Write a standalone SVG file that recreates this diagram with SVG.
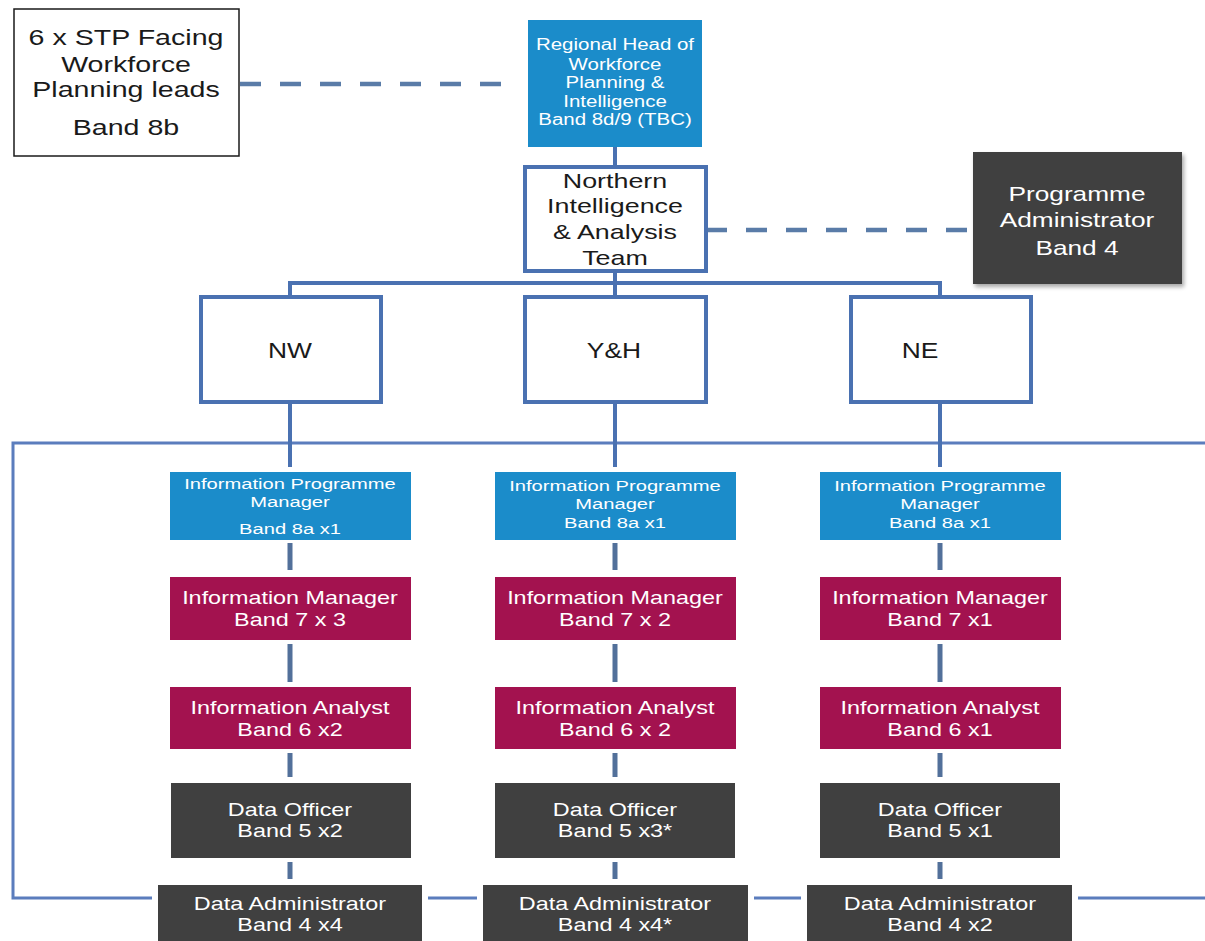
<svg xmlns="http://www.w3.org/2000/svg" width="1205" height="941" viewBox="0 0 1205 941">
<style>
text{font-family:"Liberation Sans",Arial,sans-serif;text-anchor:middle}
.w{fill:#ffffff}
.k{fill:#1a1a1a}
.blue{fill:#1b8cca}
.mag{fill:#a3124f}
.dark{fill:#404040}
.reg{fill:#ffffff;stroke:#4a71b1;stroke-width:4}
.conn{stroke:#4a71b1;stroke-width:4;fill:none}
.frame{stroke:#5b7dbd;stroke-width:3;fill:none}
.seg{stroke:#52709a;stroke-width:5}
.dash{stroke:#5a7ca8;stroke-width:4.5;stroke-dasharray:21 19;fill:none}
.t15{font-size:15.5px}
.t16{font-size:16px}
.t18{font-size:18px}
.t21{font-size:21px}
.t22{font-size:22px}
</style>
<defs>
<filter id="sh" x="-10%" y="-10%" width="130%" height="130%">
<feGaussianBlur in="SourceAlpha" stdDeviation="2"/>
<feOffset dx="2" dy="3"/>
<feComponentTransfer><feFuncA type="linear" slope="0.35"/></feComponentTransfer>
<feMerge><feMergeNode/><feMergeNode in="SourceGraphic"/></feMerge>
</filter>
</defs>
<rect width="1205" height="941" fill="#ffffff"/>

<g id="connectors">
<path class="frame" d="M1205,443 H13 V898 H1205"/>
<path class="dash" d="M240,84 H502"/>
<path class="dash" d="M706,230 H973"/>
<path class="conn" d="M615,147 V296"/>
<path class="conn" d="M290,297 V283 H940 V297"/>
<path class="conn" d="M290,402 V467 M615,402 V467 M940,402 V467"/>
<g class="seg">
<path d="M290,543 V570 M615,543 V570 M940,543 V570"/>
<path d="M290,644 V682 M615,644 V682 M940,644 V682"/>
<path d="M290,753 V777 M615,753 V777 M940,753 V777"/>
<path d="M290,862 V880 M615,862 V880 M940,862 V880"/>
</g>
</g>

<g id="stp-leads">
<rect x="14" y="9" width="225" height="147" fill="#ffffff" stroke="#1a1a1a" stroke-width="1.5"/>
<g transform="translate(126 0) scale(1.3 1)" class="k t22">
<text x="0" y="45">6 x STP Facing</text>
<text x="0" y="72">Workforce</text>
<text x="0" y="97">Planning leads</text>
<text x="0" y="135">Band 8b</text>
</g>
</g>

<g id="regional-head">
<rect class="blue" x="528" y="20" width="174" height="127"/>
<g transform="translate(615 0) scale(1.28 1)" class="w t16">
<text x="0" y="50">Regional Head of</text>
<text x="0" y="70">Workforce</text>
<text x="0" y="88">Planning &amp;</text>
<text x="0" y="107">Intelligence</text>
<text x="0" y="125">Band 8d/9 (TBC)</text>
</g>
</g>

<g id="northern-team">
<rect class="reg" x="525" y="167" width="181" height="104"/>
<g transform="translate(615 0) scale(1.28 1)" class="k t21">
<text x="0" y="188">Northern</text>
<text x="0" y="213">Intelligence</text>
<text x="0" y="239">&amp; Analysis</text>
<text x="0" y="265">Team</text>
</g>
</g>

<g id="programme-admin">
<rect class="dark" x="973" y="152" width="209" height="132" filter="url(#sh)"/>
<g transform="translate(1077 0) scale(1.25 1)" class="w t21">
<text x="0" y="201">Programme</text>
<text x="0" y="227">Administrator</text>
<text x="0" y="255">Band 4</text>
</g>
</g>

<g id="nw">
<rect class="reg" x="201" y="297" width="180" height="105"/>
<text class="k t22" transform="translate(290 358) scale(1.2 1)">NW</text>
</g>
<g id="yh">
<rect class="reg" x="525" y="297" width="181" height="105"/>
<text class="k t22" transform="translate(614 358) scale(1.2 1)">Y&amp;H</text>
</g>
<g id="ne">
<rect class="reg" x="851" y="297" width="180" height="105"/>
<text class="k t22" transform="translate(920 358) scale(1.2 1)">NE</text>
</g>

<!-- Information Programme Managers -->
<g id="nw-ipm">
<rect class="blue" x="170" y="472" width="241" height="68"/>
<g transform="translate(290 0) scale(1.3 1)" class="w t15">
<text x="0" y="489">Information  Programme</text>
<text x="0" y="507">Manager</text>
<text x="0" y="534">Band 8a x1</text>
</g>
</g>
<g id="yh-ipm">
<rect class="blue" x="495" y="472" width="241" height="68"/>
<g transform="translate(615 0) scale(1.3 1)" class="w t15">
<text x="0" y="491">Information  Programme</text>
<text x="0" y="509">Manager</text>
<text x="0" y="528">Band 8a x1</text>
</g>
</g>
<g id="ne-ipm">
<rect class="blue" x="820" y="472" width="241" height="68"/>
<g transform="translate(940 0) scale(1.3 1)" class="w t15">
<text x="0" y="491">Information  Programme</text>
<text x="0" y="509">Manager</text>
<text x="0" y="528">Band 8a x1</text>
</g>
</g>

<!-- Information Managers -->
<g id="nw-im">
<rect class="mag" x="170" y="577" width="241" height="63"/>
<g transform="translate(290 0) scale(1.3 1)" class="w t18">
<text x="0" y="604">Information Manager</text>
<text x="0" y="626">Band 7 x 3</text>
</g>
</g>
<g id="yh-im">
<rect class="mag" x="495" y="577" width="241" height="63"/>
<g transform="translate(615 0) scale(1.3 1)" class="w t18">
<text x="0" y="604">Information Manager</text>
<text x="0" y="626">Band 7 x 2</text>
</g>
</g>
<g id="ne-im">
<rect class="mag" x="820" y="577" width="241" height="63"/>
<g transform="translate(940 0) scale(1.3 1)" class="w t18">
<text x="0" y="604">Information Manager</text>
<text x="0" y="626">Band 7 x1</text>
</g>
</g>

<!-- Information Analysts -->
<g id="nw-ia">
<rect class="mag" x="170" y="687" width="241" height="62"/>
<g transform="translate(290 0) scale(1.3 1)" class="w t18">
<text x="0" y="714">Information Analyst</text>
<text x="0" y="736">Band 6 x2</text>
</g>
</g>
<g id="yh-ia">
<rect class="mag" x="495" y="687" width="241" height="62"/>
<g transform="translate(615 0) scale(1.3 1)" class="w t18">
<text x="0" y="714">Information Analyst</text>
<text x="0" y="736">Band 6 x 2</text>
</g>
</g>
<g id="ne-ia">
<rect class="mag" x="820" y="687" width="241" height="62"/>
<g transform="translate(940 0) scale(1.3 1)" class="w t18">
<text x="0" y="714">Information Analyst</text>
<text x="0" y="736">Band 6 x1</text>
</g>
</g>

<!-- Data Officers -->
<g id="nw-do">
<rect class="dark" x="171" y="783" width="240" height="75"/>
<g transform="translate(290 0) scale(1.3 1)" class="w t18">
<text x="0" y="816">Data Officer</text>
<text x="0" y="837">Band 5 x2</text>
</g>
</g>
<g id="yh-do">
<rect class="dark" x="495" y="783" width="240" height="75"/>
<g transform="translate(615 0) scale(1.3 1)" class="w t18">
<text x="0" y="816">Data Officer</text>
<text x="0" y="837">Band 5 x3*</text>
</g>
</g>
<g id="ne-do">
<rect class="dark" x="820" y="783" width="240" height="75"/>
<g transform="translate(940 0) scale(1.3 1)" class="w t18">
<text x="0" y="816">Data Officer</text>
<text x="0" y="837">Band 5 x1</text>
</g>
</g>

<!-- Data Administrators -->
<g id="nw-da">
<rect fill="#ffffff" x="152" y="879" width="276" height="70"/>
<rect class="dark" x="158" y="885" width="264" height="60"/>
<g transform="translate(290 0) scale(1.3 1)" class="w t18">
<text x="0" y="910">Data Administrator</text>
<text x="0" y="931">Band 4 x4</text>
</g>
</g>
<g id="yh-da">
<rect fill="#ffffff" x="477" y="879" width="277" height="70"/>
<rect class="dark" x="483" y="885" width="265" height="60"/>
<g transform="translate(615 0) scale(1.3 1)" class="w t18">
<text x="0" y="910">Data Administrator</text>
<text x="0" y="931">Band 4 x4*</text>
</g>
</g>
<g id="ne-da">
<rect fill="#ffffff" x="801" y="879" width="277" height="70"/>
<rect class="dark" x="807" y="885" width="265" height="60"/>
<g transform="translate(940 0) scale(1.3 1)" class="w t18">
<text x="0" y="910">Data Administrator</text>
<text x="0" y="931">Band 4 x2</text>
</g>
</g>
</svg>
